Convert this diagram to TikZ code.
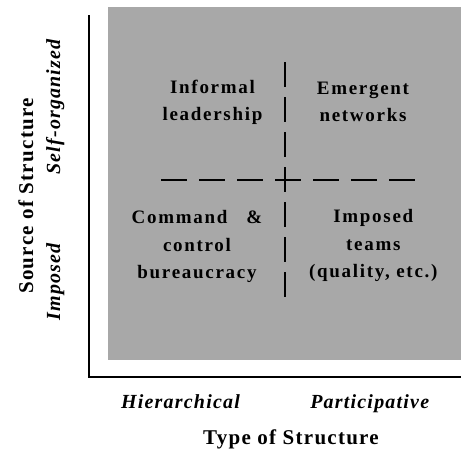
\documentclass[tikz,border=0pt]{standalone}
\usepackage{fontspec}
\setmainfont{Liberation Serif}
\newfontfamily\quadfont[LetterSpace=9]{Liberation Serif}
\newfontfamily\axisfont[LetterSpace=6]{Liberation Serif}
\definecolor{panel}{RGB}{168,168,168}
\tikzset{
  quad/.style={font=\quadfont\bfseries\fontsize{19}{27.5}\selectfont,align=center,anchor=base,inner sep=0pt},
  axlab/.style={font=\axisfont\bfseries\fontsize{21}{24}\selectfont,anchor=base,inner sep=0pt},
  axval/.style={font=\axisfont\bfseries\itshape\fontsize{20}{24}\selectfont,anchor=base,inner sep=0pt},
  axis/.style={draw=black,line width=2.3pt},
  divider/.style={draw=black,line width=2pt},
}

\begin{document}
\begin{tikzpicture}[x=1pt,y=-1pt]
\useasboundingbox (0,0) rectangle (461,451);
\fill[panel] (108,7) rectangle (461,360);
\coordinate (ax_top) at (89,15);
\coordinate (ax_org) at (89,377);
\coordinate (ax_end) at (461,377);
\draw[axis] (ax_top) -- (ax_org) -- (ax_end);
\coordinate (hd_l) at (161,180);
\coordinate (hd_r) at (415,180);
\coordinate (vd_t) at (285,62);
\coordinate (vd_b) at (285,297);
\draw[divider,dash pattern=on 26pt off 12pt] (hd_l) -- (hd_r);
\draw[divider,dash pattern=on 25pt off 10pt] (vd_t) -- (vd_b);
\node[quad] (q_inf) at (212.5,120.5) {Informal\\leadership};
\node[quad] (q_emg) at (363,121.5) {Emergent\\networks};
\node[quad] (q_cmd) at (197,278.5) {Command\quad\&\\control\\bureaucracy};
\node[quad] (q_imp) at (373.3,277.5) {Imposed\\teams\\(quality, etc.)};
\node[axval] (x_hier) at (180.5,408) {Hierarchical};
\node[axval] (x_part) at (369.7,408) {Participative};
\node[axlab] (x_title) at (291,444) {Type of Structure};
\node[axlab,rotate=90] (y_title) at (33,196) {Source of Structure};
\node[axval,rotate=90] (y_self) at (60,107) {Self-organized};
\node[axval,rotate=90] (y_imp) at (60,282) {Imposed};
\end{tikzpicture}
\end{document}
